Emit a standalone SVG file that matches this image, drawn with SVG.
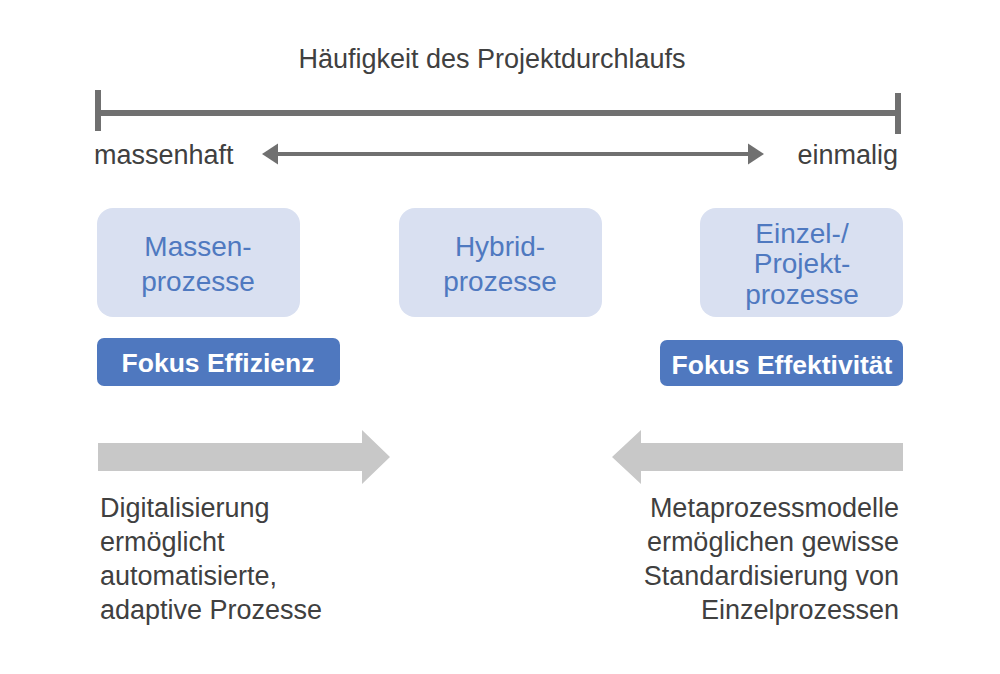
<svg xmlns="http://www.w3.org/2000/svg" width="1000" height="674" viewBox="0 0 1000 674">
<style>
text{font-family:"Liberation Sans",Arial,sans-serif}
.g{fill:#404040;font-size:27px}
.p{fill:#d9e0f1}
.pt{fill:#4f79c0;font-size:28px;text-anchor:middle}
.b{fill:#4f78bf}
.bt{fill:#fff;font-size:26.5px;font-weight:bold;text-anchor:middle}
.big{fill:#c8c8c8}
</style>
<defs>
<marker id="ah" markerWidth="6" markerHeight="6" refX="1" refY="3" orient="auto-start-reverse" markerUnits="strokeWidth"><path d="M0,0.4 L4,3 L0,5.6 Z" fill="#707070"/></marker>
</defs>
<rect width="1000" height="674" fill="#fff"/>
<text x="492" y="68" class="g" text-anchor="middle">Häufigkeit des Projektdurchlaufs</text>
<g id="connectors" stroke="#707070" fill="none">
<path d="M98 113 H898" stroke-width="6"/>
<path d="M98 90 V131 M898 93 V134" stroke-width="6"/>
<path d="M274 154 H752" stroke-width="4" marker-start="url(#ah)" marker-end="url(#ah)"/>
</g>
<text x="94" y="164" class="g">massenhaft</text>
<text x="898" y="164" class="g" text-anchor="end">einmalig</text>
<g id="massen"><rect class="p" x="97" y="208" width="203" height="109" rx="16"/><text class="pt" x="198" y="256">Massen-</text><text class="pt" x="198" y="291">prozesse</text></g>
<g id="hybrid"><rect class="p" x="399" y="208" width="203" height="109" rx="16"/><text class="pt" x="500" y="256">Hybrid-</text><text class="pt" x="500" y="291">prozesse</text></g>
<g id="einzel"><rect class="p" x="700" y="208" width="203" height="109" rx="16"/><text class="pt" x="802" y="243">Einzel-/</text><text class="pt" x="802" y="273">Projekt-</text><text class="pt" x="802" y="304">prozesse</text></g>
<g id="effizienz"><rect class="b" x="97" y="338" width="243" height="48" rx="7"/><text class="bt" x="218" y="372">Fokus Effizienz</text></g>
<g id="effektivitaet"><rect class="b" x="660" y="340" width="243" height="46" rx="7"/><text class="bt" x="782" y="374">Fokus Effektivität</text></g>
<g id="arrow-left"><path class="big" d="M98 443 H362 V430 L390 457 L362 484 V471 H98 Z"/></g>
<g id="arrow-right"><path class="big" d="M903 443 H641 V430 L612 457 L641 484 V471 H903 Z"/></g>
<g id="text-left" class="g"><text x="100" y="517">Digitalisierung</text><text x="100" y="551">ermöglicht</text><text x="100" y="585">automatisierte,</text><text x="100" y="619">adaptive Prozesse</text></g>
<g id="text-right" class="g" text-anchor="end"><text x="899" y="517">Metaprozessmodelle</text><text x="899" y="551">ermöglichen gewisse</text><text x="899" y="585">Standardisierung von</text><text x="899" y="619">Einzelprozessen</text></g>
</svg>
